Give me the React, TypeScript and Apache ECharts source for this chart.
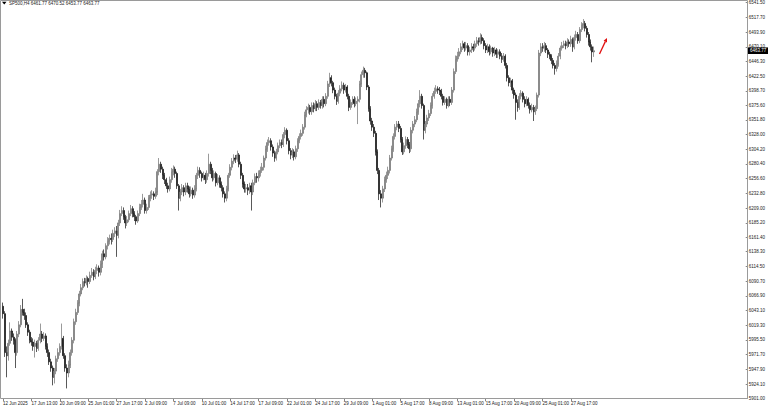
import React, { useEffect, useRef } from "react";
import * as echarts from "echarts";

const symbolTitle = "SP500,H4";

const xTickLabels = [
  "12 Jun 2025", "17 Jun 13:00", "20 Jun 09:00", "25 Jun 01:00", "27 Jun 17:00",
  "2 Jul 09:00", "7 Jul 09:00", "10 Jul 01:00", "14 Jul 17:00", "17 Jul 09:00",
  "22 Jul 01:00", "24 Jul 17:00", "29 Jul 09:00", "1 Aug 01:00", "5 Aug 17:00",
  "8 Aug 09:00", "13 Aug 01:00", "15 Aug 17:00", "20 Aug 09:00", "25 Aug 01:00",
  "27 Aug 17:00",
];

const yTickValues = [
  6541.5, 6517.7, 6493.9, 6470.1, 6446.3, 6422.5, 6398.7, 6375.6, 6351.8, 6328.0,
  6304.2, 6280.4, 6256.6, 6232.8, 6209.0, 6185.2, 6161.4, 6138.3, 6114.5, 6090.7,
  6066.9, 6043.1, 6019.3, 5995.5, 5971.7, 5947.9, 5924.1, 5901.0,
];

const firstOpen = 6050;

const closes = [
  6038, 5975, 5970, 5990, 6010, 6000, 5995, 5975, 6005, 6020, 6045, 6040, 6035, 6020, 6008, 5995,
  5992, 5985, 5990, 5982, 5995, 6005, 5998, 6002, 5985, 5975, 5960, 5950, 5935, 5945, 5965, 5975,
  5985, 5998, 5970, 5950, 5942, 5955, 5975, 5995, 6025, 6040, 6055, 6070, 6080, 6090, 6088, 6095,
  6090, 6100, 6105, 6098, 6108, 6112, 6105, 6118, 6135, 6130, 6148, 6155, 6160, 6158, 6168, 6172,
  6165, 6185, 6200, 6205, 6195, 6185, 6190, 6200, 6208, 6200, 6195, 6188, 6200, 6210, 6215, 6222,
  6205, 6210, 6225, 6230, 6232, 6228, 6235, 6268, 6280, 6272, 6262, 6255, 6245, 6240, 6255, 6268,
  6272, 6265, 6245, 6225, 6235, 6242, 6235, 6245, 6240, 6232, 6238, 6230, 6240, 6262, 6270, 6265,
  6258, 6262, 6255, 6265, 6280, 6270, 6258, 6265, 6250, 6258, 6248, 6242, 6232, 6225, 6240, 6262,
  6275, 6285, 6290, 6288, 6295, 6280, 6262, 6248, 6240, 6242, 6238, 6245, 6235, 6250, 6260, 6258,
  6265, 6270, 6275, 6290, 6305, 6315, 6318, 6308, 6298, 6290, 6300, 6310, 6315, 6312, 6328, 6335,
  6318, 6302, 6295, 6300, 6292, 6305, 6318, 6325, 6330, 6340, 6360, 6368, 6372, 6365, 6375, 6370,
  6378, 6372, 6380, 6375, 6385, 6378, 6390, 6410, 6420, 6412, 6400, 6390, 6382, 6395, 6402, 6408,
  6400, 6405, 6390, 6372, 6380, 6385, 6378, 6382, 6385, 6410, 6425, 6432, 6428, 6405, 6370, 6350,
  6340, 6330, 6300, 6270, 6232, 6225, 6240, 6255, 6262, 6270, 6290, 6305, 6325, 6340, 6345, 6338,
  6320, 6300, 6310, 6320, 6312, 6305, 6335, 6345, 6352, 6365, 6378, 6390, 6375, 6335, 6345, 6355,
  6362, 6375, 6390, 6398, 6402, 6400, 6398, 6390, 6380, 6385, 6375, 6385, 6380, 6400, 6430, 6450,
  6455, 6462, 6470, 6475, 6468, 6472, 6462, 6465, 6470, 6468, 6475, 6480, 6478, 6485, 6480, 6472,
  6465, 6470, 6462, 6468, 6460, 6465, 6458, 6462, 6455, 6450, 6455, 6440, 6420, 6412, 6415, 6400,
  6392, 6380, 6372, 6390, 6395, 6385, 6378, 6385, 6375, 6368, 6372, 6365, 6370, 6392, 6460, 6470,
  6468, 6472, 6465, 6458, 6455, 6448, 6440, 6435, 6442, 6455, 6468, 6472, 6475, 6472, 6478, 6475,
  6482, 6470, 6485, 6490, 6480, 6498, 6505, 6508, 6500, 6490, 6478, 6470, 6461.77, 6463.77,
];

const highs = [
  6056, 6042, 5985, 5996, 6024, 6014, 6006, 5998, 6010, 6026, 6052, 6062, 6046, 6040, 6024, 6012,
  6000, 5998, 5996, 5994, 6000, 6022, 6010, 6008, 6006, 5990, 5980, 5965, 5954, 5950, 5970, 5982,
  5990, 6022, 6002, 5974, 5956, 5962, 5980, 6000, 6030, 6046, 6060, 6075, 6086, 6095, 6096, 6100,
  6098, 6106, 6112, 6110, 6114, 6118, 6116, 6124, 6140, 6142, 6152, 6162, 6166, 6168, 6174, 6178,
  6180, 6190, 6206, 6212, 6210, 6198, 6196, 6205, 6214, 6212, 6204, 6198, 6205, 6216, 6222, 6232,
  6226, 6216, 6230, 6236, 6238, 6236, 6242, 6272, 6290, 6284, 6276, 6266, 6258, 6250, 6260, 6274,
  6278, 6276, 6268, 6248, 6240, 6248, 6246, 6250, 6250, 6244, 6244, 6242, 6246, 6266, 6276, 6275,
  6268, 6268, 6266, 6270, 6297, 6284, 6274, 6270, 6268, 6264, 6262, 6252, 6246, 6236, 6245, 6266,
  6280, 6290, 6296, 6295, 6302, 6298, 6284, 6266, 6252, 6248, 6248, 6250, 6250, 6255, 6265, 6266,
  6270, 6276, 6282, 6294, 6310, 6320, 6324, 6322, 6312, 6302, 6305, 6315, 6320, 6320, 6332, 6340,
  6338, 6322, 6306, 6306, 6304, 6310, 6322, 6330, 6336, 6345, 6365, 6374, 6378, 6376, 6380, 6380,
  6384, 6382, 6385, 6384, 6390, 6390, 6395, 6415, 6428, 6424, 6415, 6404, 6394, 6400, 6408, 6414,
  6412, 6410, 6408, 6394, 6385, 6390, 6390, 6388, 6390, 6415, 6430, 6438, 6436, 6430, 6408, 6374,
  6355, 6345, 6334, 6304, 6274, 6238, 6245, 6260, 6268, 6276, 6295, 6310, 6330, 6345, 6350, 6350,
  6342, 6324, 6315, 6325, 6324, 6316, 6340, 6350, 6358, 6370, 6384, 6400, 6394, 6378, 6350, 6360,
  6368, 6380, 6395, 6404, 6408, 6406, 6405, 6402, 6394, 6390, 6388, 6390, 6390, 6405, 6435, 6456,
  6462, 6468, 6476, 6480, 6478, 6478, 6476, 6470, 6476, 6475, 6480, 6486, 6485, 6492, 6490, 6484,
  6476, 6475, 6474, 6472, 6470, 6470, 6468, 6466, 6466, 6460, 6460, 6458, 6444, 6424, 6420, 6418,
  6404, 6396, 6385, 6395, 6400, 6398, 6390, 6390, 6388, 6380, 6378, 6376, 6375, 6396, 6465, 6476,
  6476, 6478, 6476, 6468, 6462, 6458, 6452, 6444, 6448, 6460, 6472, 6478, 6480, 6480, 6484, 6482,
  6488, 6485, 6490, 6496, 6494, 6502, 6510, 6515, 6512, 6504, 6494, 6482, 6474, 6470.52,
];

const lows = [
  6030, 5968, 5935, 5962, 5986, 5994, 5988, 5950, 5970, 6000, 6016, 6035, 6028, 6015, 6002, 5990,
  5986, 5978, 5967, 5976, 5978, 5990, 5992, 5994, 5980, 5968, 5955, 5944, 5922, 5925, 5940, 5960,
  5970, 5980, 5965, 5944, 5917, 5935, 5950, 5970, 5990, 6020, 6036, 6050, 6066, 6076, 6082, 6084,
  6080, 6086, 6096, 6092, 6094, 6102, 6098, 6100, 6112, 6124, 6126, 6142, 6150, 6150, 6154, 6162,
  6130, 6160, 6180, 6196, 6190, 6176, 6180, 6186, 6196, 6194, 6188, 6182, 6185, 6196, 6206, 6210,
  6200, 6200, 6206, 6220, 6224, 6222, 6224, 6230, 6262, 6266, 6256, 6248, 6240, 6234, 6236, 6250,
  6262, 6258, 6240, 6205, 6220, 6230, 6228, 6230, 6234, 6226, 6228, 6224, 6226, 6236, 6256, 6258,
  6252, 6254, 6248, 6250, 6260, 6264, 6252, 6254, 6244, 6246, 6242, 6236, 6226, 6218, 6220, 6236,
  6258, 6270, 6280, 6282, 6284, 6275, 6256, 6242, 6234, 6234, 6230, 6232, 6205, 6230, 6246, 6250,
  6252, 6260, 6266, 6270, 6286, 6300, 6310, 6302, 6292, 6284, 6286, 6296, 6306, 6306, 6308, 6322,
  6312, 6296, 6288, 6290, 6286, 6288, 6300, 6314, 6320, 6326, 6336, 6356, 6362, 6360, 6360, 6364,
  6366, 6366, 6368, 6370, 6370, 6372, 6374, 6386, 6405, 6406, 6395, 6385, 6376, 6378, 6390, 6398,
  6394, 6396, 6385, 6366, 6368, 6376, 6372, 6374, 6345, 6380, 6405, 6420, 6420, 6400, 6365, 6344,
  6334, 6324, 6294, 6264, 6222, 6210, 6218, 6235, 6250, 6256, 6265, 6286, 6300, 6320, 6335, 6332,
  6315, 6295, 6296, 6305, 6306, 6298, 6300, 6330, 6340, 6348, 6360, 6372, 6370, 6320, 6330, 6340,
  6350, 6358, 6370, 6386, 6394, 6394, 6392, 6385, 6375, 6376, 6370, 6372, 6374, 6376, 6396, 6426,
  6446, 6450, 6458, 6465, 6462, 6464, 6456, 6456, 6460, 6462, 6464, 6470, 6472, 6474, 6475, 6466,
  6460, 6460, 6456, 6458, 6454, 6455, 6452, 6452, 6450, 6444, 6446, 6435, 6414, 6406, 6405, 6394,
  6386, 6352, 6365, 6368, 6385, 6380, 6372, 6374, 6370, 6362, 6364, 6350, 6360, 6366, 6388, 6455,
  6462, 6462, 6460, 6452, 6450, 6442, 6435, 6425, 6430, 6438, 6450, 6464, 6468, 6466, 6468, 6470,
  6470, 6462, 6466, 6480, 6475, 6476, 6494, 6500, 6495, 6485, 6472, 6464, 6445, 6453.77,
];

const slotCount = 419;
const barsPerLabel = 16;

export default function App() {
  const ref = useRef<HTMLDivElement>(null);

  useEffect(() => {
    if (!ref.current) return;
    const chart = echarts.init(ref.current, undefined, { renderer: "svg" });

    const opens = [firstOpen, ...closes.slice(0, closes.length - 1)];
    const ohlc = closes.map((c, i) => [opens[i], c, lows[i], highs[i]]);
    const categories = Array.from({ length: slotCount }, (_, i) =>
      i % barsPerLabel === 0 && i / barsPerLabel < xTickLabels.length ? xTickLabels[i / barsPerLabel] : ""
    );
    const showTick = (idx: number) => idx % barsPerLabel === 0 && idx / barsPerLabel < xTickLabels.length;

    const last = closes.length - 1;
    const header = `${symbolTitle} ${opens[last].toFixed(2)} ${highs[last].toFixed(2)} ${lows[last].toFixed(2)} ${closes[last].toFixed(2)}`;

    const font = "Liberation Sans, Arial, sans-serif";

    chart.setOption({
      animation: false,
      backgroundColor: "#ffffff",
      textStyle: { fontFamily: font },
      grid: { left: 0, right: 21, top: 2.7, bottom: 12.7, containLabel: false },
      xAxis: {
        type: "category",
        data: categories,
        boundaryGap: true,
        axisLine: { show: false },
        axisTick: {
          show: true,
          alignWithLabel: true,
          interval: showTick,
          length: 3,
          lineStyle: { color: "#666", width: 0.8 },
        },
        axisLabel: {
          interval: showTick,
          align: "left",
          margin: 3,
          fontSize: 4.5,
          color: "#222",
          fontFamily: font,
        },
        splitLine: { show: false },
      },
      yAxis: {
        type: "value",
        position: "right",
        min: 5901,
        max: 6541.5,
        axisLine: { show: false },
        axisTick: {
          show: true,
          customValues: yTickValues,
          length: 2,
          lineStyle: { color: "#666", width: 0.8 },
        },
        axisLabel: {
          customValues: yTickValues,
          formatter: (v: number) => v.toFixed(2),
          margin: 3,
          fontSize: 4.5,
          color: "#222",
          align: "left",
          fontFamily: font,
        },
        splitLine: { show: false },
      },
      series: [
        {
          type: "candlestick",
          data: ohlc,
          barWidth: 1.5,
          itemStyle: {
            color: "#9c9c9c",
            color0: "#111111",
            borderColor: "#6e6e6e",
            borderColor0: "#111111",
            borderWidth: 0.7,
          },
        },
      ],
    });

    const yLast = chart.convertToPixel({ yAxisIndex: 0 }, closes[last]) as number;

    chart.setOption({
      graphic: [
        {
          id: "frame",
          type: "rect",
          shape: { x: 0.5, y: 0.5, width: 747, height: 398 },
          style: { fill: "none", stroke: "#9a9a9a", lineWidth: 1 },
          silent: true,
          z: 1,
        },
        {
          id: "tri",
          type: "polygon",
          shape: { points: [[2, 1.8], [6.5, 1.8], [4.25, 4.6]] },
          style: { fill: "#000" },
          z: 10,
        },
        {
          id: "header",
          type: "text",
          x: 9,
          y: 3.4,
          style: {
            text: header,
            fontSize: 4.5,
            fontFamily: font,
            fill: "#222",
            verticalAlign: "middle",
            align: "left",
          },
          z: 10,
        },
        {
          id: "tagbox",
          type: "rect",
          shape: { x: 748, y: yLast - 3.3, width: 20, height: 6.6 },
          style: { fill: "#000" },
          z: 20,
        },
        {
          id: "tagtext",
          type: "text",
          x: 750,
          y: yLast,
          style: {
            text: closes[last].toFixed(2),
            fontSize: 4.5,
            fontFamily: font,
            fill: "#fff",
            verticalAlign: "middle",
            align: "left",
          },
          z: 21,
        },
        {
          id: "arrowline",
          type: "line",
          shape: { x1: 599.5, y1: 54, x2: 605.3, y2: 41.6 },
          style: { stroke: "#e01010", lineWidth: 1.3 },
          z: 15,
        },
        {
          id: "arrowhead",
          type: "polygon",
          shape: { points: [[607, 38], [603.6, 40.8], [607, 42.4]] },
          style: { fill: "#e01010" },
          z: 15,
        },
      ],
    });

    return () => chart.dispose();
  }, []);

  return (
    <div
      ref={ref}
      style={{ position: "fixed", left: 0, top: 0, width: 768, height: 411, background: "#fff" }}
    />
  );
}
